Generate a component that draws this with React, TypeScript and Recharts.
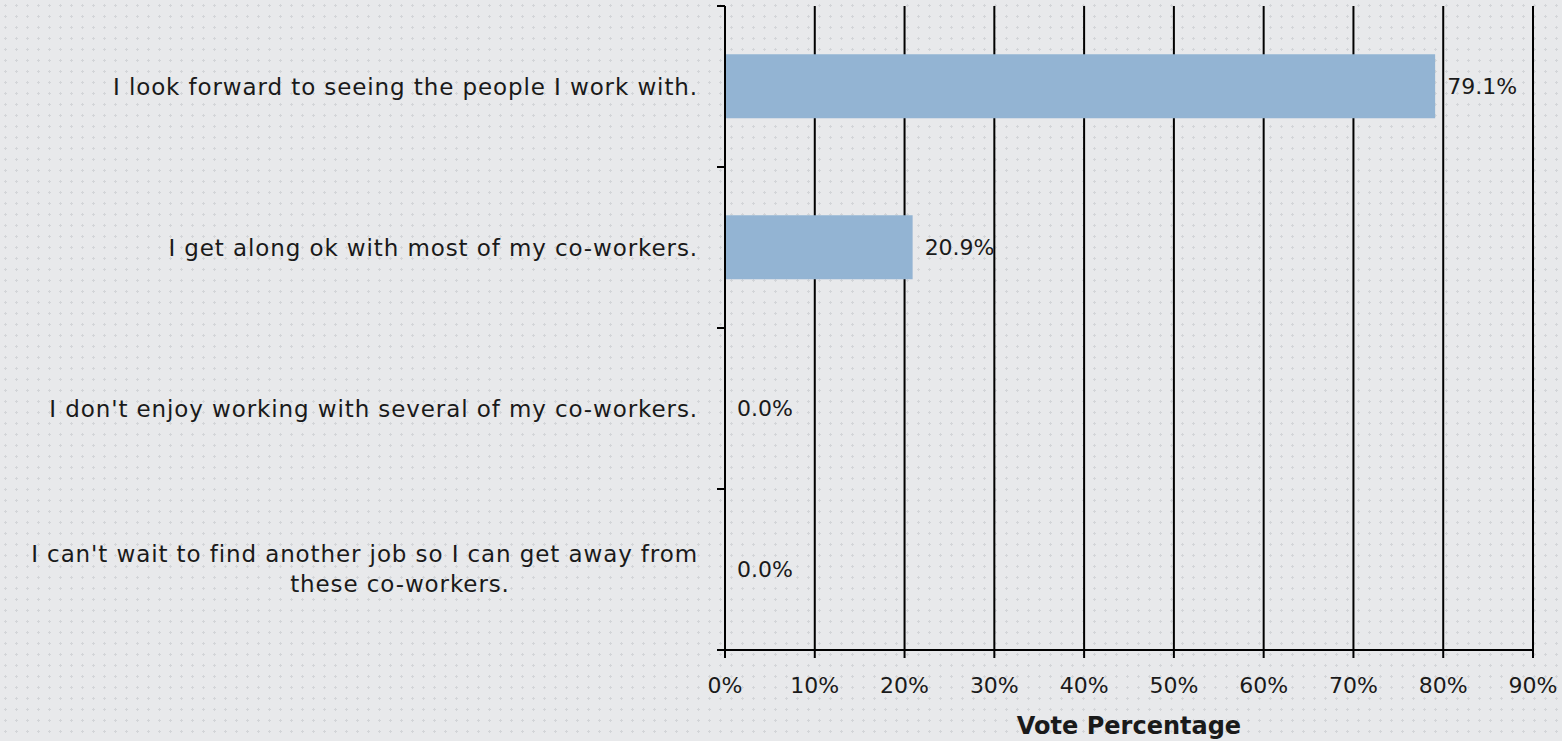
import React from 'react';
import { BarChart, Bar, XAxis, YAxis, CartesianGrid, LabelList } from 'recharts';

const categories = [
    'I look forward to seeing the people I work with.',
    'I get along ok with most of my co-workers.',
    "I don't enjoy working with several of my co-workers.",
    "I can't wait to find another job so I can get away from these co-workers.",
];
const votePercent = [79.1, 20.9, 0.0, 0.0];
const xTicks = [0, 10, 20, 30, 40, 50, 60, 70, 80, 90];

const data = categories.map((name, i) => ({ name, value: votePercent[i] }));

const FONT = '"DejaVu Sans", sans-serif';
const TEXT = '#1a1a1a';

// break long labels the way the original text box did
const wrapLabel = (s: string): string[] => {
    if (s.length <= 56) return [s];
    const cut = s.lastIndexOf(' ', 56);
    return [s.slice(0, cut), s.slice(cut + 1)];
};

const labelStyle = { fontSize: 23, fontFamily: FONT, fill: TEXT, letterSpacing: 0.9 };

const CategoryTick = (props: any) => {
    const { x, y, payload, index, visibleTicksCount } = props;
    const half = payload.offset || 0;
    const lines = wrapLabel(String(payload.value));
    const axisX = x + 27;
    return (
        <g>
            <line x1={axisX - 8} x2={axisX} y1={y - half} y2={y - half} stroke="#000" strokeWidth={2} />
            {index === visibleTicksCount - 1 && (
                <line x1={axisX - 8} x2={axisX} y1={y + half} y2={y + half} stroke="#000" strokeWidth={2} />
            )}
            {lines.length === 1 ? (
                <text x={x} y={y} dy="0.35em" textAnchor="end" {...labelStyle}>
                    {lines[0]}
                </text>
            ) : (
                <>
                    <text x={x} y={y - 16} dy="0.35em" textAnchor="end" {...labelStyle}>
                        {lines[0]}
                    </text>
                    <text x={x - 298} y={y + 14} dy="0.35em" textAnchor="middle" {...labelStyle}>
                        {lines[1]}
                    </text>
                </>
            )}
        </g>
    );
};

export default function App() {
    return (
        <div
            style={{
                position: 'absolute',
                left: 0,
                top: 0,
                width: 1562,
                height: 741,
                backgroundColor: '#e8e9eb',
                backgroundImage: 'radial-gradient(circle, #d3d5d8 1px, transparent 1.4px)',
                backgroundSize: '11px 11px',
            }}
        >
            <BarChart
                width={1562}
                height={741}
                data={data}
                layout="vertical"
                margin={{ top: 6, right: 29, left: 0, bottom: 0 }}
                barCategoryGap="30%"
            >
                <CartesianGrid horizontal={false} stroke="#000" strokeWidth={2} />
                <XAxis
                    type="number"
                    domain={[0, 90]}
                    ticks={xTicks}
                    tickFormatter={(v: number) => `${v}%`}
                    height={91}
                    stroke="#000"
                    strokeWidth={2}
                    tickSize={8}
                    tickMargin={19}
                    tick={{ fontSize: 22, fontFamily: FONT, fill: TEXT }}
                    label={{
                        value: 'Vote Percentage',
                        position: 'insideBottom',
                        offset: 7,
                        fontSize: 24,
                        fontWeight: 'bold',
                        fontFamily: FONT,
                        fill: TEXT,
                    }}
                />
                <YAxis
                    type="category"
                    dataKey="name"
                    width={725}
                    stroke="#000"
                    strokeWidth={2}
                    tickLine={false}
                    tickSize={8}
                    tickMargin={19}
                    tick={<CategoryTick />}
                    interval={0}
                />
                <Bar dataKey="value" fill="#93b4d3" minPointSize={0.01} isAnimationActive={false}>
                    <LabelList
                        dataKey="value"
                        position="right"
                        offset={12}
                        formatter={(v: any) => `${Number(v).toFixed(1)}%`}
                        style={{ fontSize: 22, fontFamily: FONT, fill: TEXT }}
                    />
                </Bar>
            </BarChart>
        </div>
    );
}
